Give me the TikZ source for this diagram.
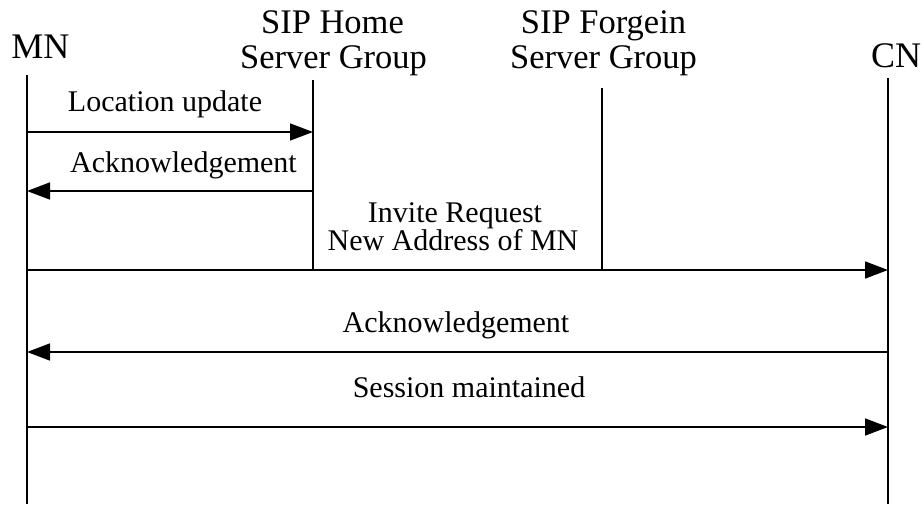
\documentclass[tikz,border=0pt]{standalone}
\usepackage{fontspec}
\setmainfont{Liberation Serif}
\usetikzlibrary{arrows.meta}
\tikzset{
  lifeline/.style={line width=1.3pt, line cap=butt},
  msg/.style={line width=1.6pt, -{Triangle[length=23pt,width=17pt]}},
  actor/.style={inner sep=0pt, anchor=base, font=\fontsize{36}{39}\selectfont},
  header/.style={inner sep=0pt, anchor=base, font=\fontsize{34.5}{37}\selectfont},
  msglabel/.style={inner sep=0pt, anchor=base, font=\fontsize{30}{32}\selectfont}
}
\begin{document}
\begin{tikzpicture}[x=1pt,y=-1pt]
\useasboundingbox (0,0) rectangle (922,504);
% actors
\node[actor] (mn) at (40.5,58) {MN};
\node[actor] (cn) at (896,67) {CN};
\node[header] (home1) at (332.5,33) {SIP Home};
\node[header] (home2) at (333.5,68) {Server Group};
\node[header] (for1) at (603.5,33) {SIP Forgein};
\node[header] (for2) at (603.5,68) {Server Group};
% lifeline ends
\coordinate (mnT) at (27,75);
\coordinate (mnB) at (27,504);
\coordinate (hoT) at (313,80);
\coordinate (hoB) at (313,270);
\coordinate (foT) at (602,88);
\coordinate (foB) at (602,270);
\coordinate (cnT) at (888,78);
\coordinate (cnB) at (888,504);
\draw[lifeline] (mnT) -- (mnB);
\draw[lifeline] (hoT) -- (hoB);
\draw[lifeline] (foT) -- (foB);
\draw[lifeline] (cnT) -- (cnB);
% message points
\coordinate (m1a) at (27,132);  \coordinate (m1b) at (313,132);
\coordinate (m2a) at (313,191); \coordinate (m2b) at (27,191);
\coordinate (m3a) at (27,270);  \coordinate (m3b) at (888,270);
\coordinate (m4a) at (888,352); \coordinate (m4b) at (27,352);
\coordinate (m5a) at (27,427);  \coordinate (m5b) at (888,427);
\draw[msg] (m1a) -- (m1b);
\draw[msg] (m2a) -- (m2b);
\draw[msg] (m3a) -- (m3b);
\draw[msg] (m4a) -- (m4b);
\draw[msg] (m5a) -- (m5b);
% labels
\node[msglabel] (l1) at (165,111) {Location update};
\node[msglabel] (l2) at (183.5,172) {Acknowledgement};
\node[msglabel] (l3a) at (455,222) {Invite Request};
\node[msglabel] (l3b) at (453,250) {New Address of MN};
\node[msglabel] (l4) at (456,332) {Acknowledgement};
\node[msglabel] (l5) at (469,397) {Session maintained};
\end{tikzpicture}
\end{document}
